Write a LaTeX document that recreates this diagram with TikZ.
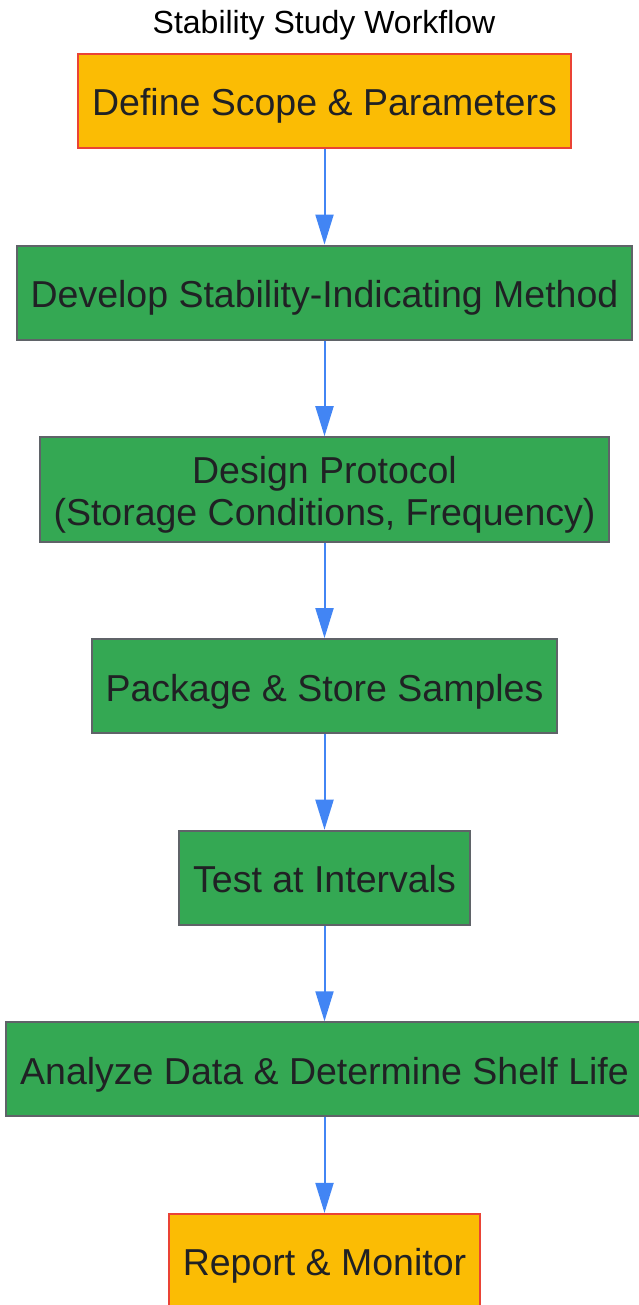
\documentclass[tikz,border=0pt]{standalone}
\usepackage{fontspec}
\setmainfont{Liberation Sans}
\usepackage{xcolor}
\usetikzlibrary{positioning,arrows.meta}

\definecolor{termfill}{HTML}{FBBC04}
\definecolor{termline}{HTML}{EA4335}
\definecolor{stepfill}{HTML}{34A853}
\definecolor{stepline}{HTML}{5F6368}
\definecolor{flowblue}{HTML}{4285F4}
\definecolor{textgray}{HTML}{202124}

\begin{document}
\begin{tikzpicture}[
    x=1pt, y=1pt,
    node distance=95.6pt,
    >={Triangle[width=18pt,length=30pt]},
    font=\fontsize{37.5}{41.3}\selectfont,
    terminal/.style={
		rectangle,
		draw=termline,
		fill=termfill,
		line width=2pt,
		text=textgray,
		align=center,
		minimum height=94pt,
		text height=36pt,
		text depth=6pt,
		inner xsep=14pt,
		inner ysep=10.5pt
	},
	stepbox/.style={
		terminal,
		draw=stepline,
		fill=stepfill
	},
	twolines/.style={
		text height=77.3pt
	},
	flow/.style={
		->,
		draw=flowblue,
		line width=2pt
	}
  ]
  \useasboundingbox (0,0) rectangle (638,-1305);

    % We start by placing the blocks
  \node [terminal] (scope) at (324.5,-101) {Define Scope \& Parameters};
  \node [stepbox, below=of scope] (method) {Develop Stability-Indicating Method};
  \node [stepbox, twolines, below=of method] (protocol) {Design Protocol\\(Storage Conditions, Frequency)};
  \node [stepbox, below=of protocol] (samples) {Package \& Store Samples};
  \node [stepbox, below=of samples] (test) {Test at Intervals};
  \node [stepbox, below=of test] (analyze) {Analyze Data \& Determine Shelf Life};
  \node [terminal, below=of analyze] (report) {Report \& Monitor};

  % title above the first block
  \node [font=\fontsize{32}{38}\selectfont, anchor=base] (title) at (324,-34) {Stability Study Workflow};

  % connectors
  \draw [flow] (scope) -- (method);
  \draw [flow] (method) -- (protocol);
  \draw [flow] (protocol) -- (samples);
  \draw [flow] (samples) -- (test);
  \draw [flow] (test) -- (analyze);
  \draw [flow] (analyze) -- (report);
\end{tikzpicture}
\end{document}
